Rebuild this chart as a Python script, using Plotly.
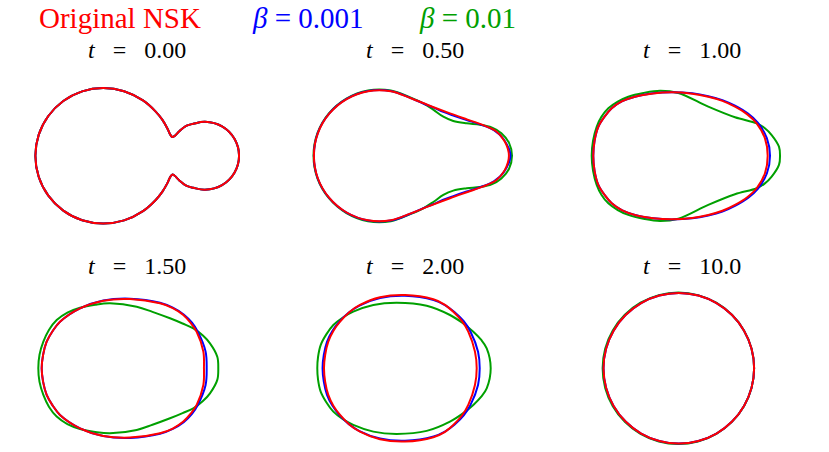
import plotly.graph_objects as go

# Droplet contours at six times (upper half, left -> right; the shapes are
# mirror-symmetric about y = 0). Units: radius of the final circle ~ 1.

TIMES = ["0.00", "0.50", "1.00", "1.50", "2.00", "10.0"]

# t = 0.00 (all three models start from the same shape)
t000_x = [-1.355, -1.311, -1.183, -0.984, -0.733, -0.455, -0.177, 0.074, 0.240,
          0.330, 0.400, 0.436, 0.462, 0.492, 0.560, 0.655, 0.743, 0.898, 1.124,
          1.289, 1.350]
t000_y = [0.0, 0.278, 0.529, 0.728, 0.856, 0.900, 0.858, 0.735, 0.590,
          0.480, 0.360, 0.282, 0.250, 0.262, 0.330, 0.400, 0.425, 0.452, 0.391,
          0.226, 0.0]

# t = 0.50
t050_nsk_x = [-1.340, -1.288, -1.136, -0.905, -0.621, -0.319, -0.060, 0.180, 0.467,
              0.700, 0.900, 1.080, 1.195, 1.250]
t050_nsk_y = [0.0, 0.298, 0.559, 0.753, 0.857, 0.857, 0.768, 0.672, 0.564,
              0.481, 0.410, 0.325, 0.190, 0.0]
t050_b1_x = [-1.340, -1.290, -1.138, -0.906, -0.621, -0.319, -0.060, 0.113, 0.250,
             0.379, 0.511, 0.689, 0.866, 1.050, 1.180, 1.270]
t050_b1_y = [0.0, 0.298, 0.560, 0.755, 0.860, 0.860, 0.770, 0.695, 0.640,
             0.583, 0.535, 0.475, 0.418, 0.340, 0.220, 0.0]
t050_b2_x = [-1.345, -1.293, -1.141, -0.908, -0.622, -0.318, -0.060, 0.113, 0.250,
             0.379, 0.511, 0.689, 0.866, 1.020, 1.150, 1.250, 1.291]
t050_b2_y = [0.0, 0.300, 0.563, 0.760, 0.868, 0.868, 0.775, 0.697, 0.610,
             0.519, 0.462, 0.431, 0.413, 0.378, 0.300, 0.175, 0.0]

# t = 1.00
t100_nsk_x = [-1.315, -1.298, -1.248, -1.165, -1.070, -0.930, -0.761, -0.520, -0.274,
              0.000, 0.212, 0.400, 0.567, 0.730, 0.855, 0.965, 1.001]
t100_nsk_y = [0.0, 0.200, 0.386, 0.520, 0.631, 0.725, 0.785, 0.828, 0.843,
              0.825, 0.785, 0.730, 0.652, 0.550, 0.431, 0.232, 0.0]
t100_b1_x = [-1.315, -1.298, -1.248, -1.165, -1.070, -0.930, -0.761, -0.520, -0.274,
             0.000, 0.212, 0.400, 0.567, 0.740, 0.870, 0.990, 1.032]
t100_b1_y = [0.0, 0.200, 0.386, 0.520, 0.631, 0.725, 0.785, 0.830, 0.845,
             0.830, 0.792, 0.740, 0.665, 0.560, 0.440, 0.235, 0.0]
t100_b2_x = [-1.336, -1.318, -1.270, -1.205, -1.115, -0.990, -0.850, -0.650, -0.429,
             -0.186, 0.212, 0.567, 0.855, 0.960, 1.054, 1.151, 1.165]
t100_b2_y = [0.0, 0.200, 0.386, 0.520, 0.631, 0.720, 0.785, 0.835, 0.865,
             0.835, 0.652, 0.511, 0.431, 0.370, 0.276, 0.121, 0.0]

# t = 1.50
t150_nsk_x = [-1.271, -1.252, -1.205, -1.125, -1.028, -0.762, -0.453, -0.098, 0.300,
              0.470, 0.610, 0.710, 0.787, 0.876, 0.884]
t150_nsk_y = [0.0, 0.180, 0.353, 0.495, 0.619, 0.797, 0.898, 0.920, 0.863,
              0.800, 0.708, 0.600, 0.486, 0.221, 0.0]
t150_b1_x = [-1.271, -1.252, -1.205, -1.125, -1.028, -0.762, -0.453, -0.098, 0.300,
             0.470, 0.615, 0.725, 0.800, 0.905, 0.920]
t150_b1_y = [0.0, 0.180, 0.353, 0.495, 0.619, 0.797, 0.900, 0.925, 0.870,
             0.805, 0.715, 0.605, 0.490, 0.225, 0.0]
t150_b2_x = [-1.316, -1.300, -1.249, -1.175, -1.072, -0.930, -0.762, -0.560, -0.364,
             -0.009, 0.200, 0.433, 0.600, 0.743, 0.870, 0.964, 1.061, 1.074]
t150_b2_y = [0.0, 0.180, 0.353, 0.510, 0.641, 0.740, 0.805, 0.845, 0.863,
             0.818, 0.750, 0.664, 0.595, 0.531, 0.435, 0.332, 0.154, 0.0]

# t = 2.00
t200_nsk_x = [-1.206, -1.190, -1.149, -1.080, -0.993, -0.870, -0.728, -0.462, -0.130,
              0.246, 0.390, 0.511, 0.625, 0.710, 0.799, 0.822]
t200_nsk_y = [0.0, 0.180, 0.353, 0.500, 0.619, 0.745, 0.841, 0.943, 0.973,
              0.916, 0.850, 0.752, 0.630, 0.486, 0.221, 0.0]
t200_b1_x = [-1.225, -1.208, -1.166, -1.095, -1.005, -0.880, -0.735, -0.462, -0.130,
             0.250, 0.400, 0.530, 0.650, 0.740, 0.840, 0.862]
t200_b1_y = [0.0, 0.180, 0.353, 0.495, 0.615, 0.738, 0.833, 0.933, 0.962,
             0.905, 0.840, 0.745, 0.625, 0.486, 0.221, 0.0]
t200_b2_x = [-1.295, -1.285, -1.250, -1.175, -1.082, -0.955, -0.817, -0.551, -0.240,
             0.158, 0.467, 0.630, 0.777, 0.880, 0.955, 1.008]
t200_b2_y = [0.0, 0.150, 0.309, 0.450, 0.575, 0.675, 0.752, 0.841, 0.871,
             0.831, 0.708, 0.605, 0.486, 0.380, 0.266, 0.0]

# t = 10.0 (relaxed to a circle)
t1000_nsk_x = [-1.179, -1.145, -1.045, -0.886, -0.679, -0.438, -0.179, 0.080, 0.321,
               0.528, 0.687, 0.787, 0.821]
t1000_nsk_y = [0.0, 0.259, 0.500, 0.707, 0.866, 0.966, 1.000, 0.966, 0.866,
               0.707, 0.500, 0.259, 0.0]
t1000_b2_x = [-1.191, -1.157, -1.056, -0.896, -0.688, -0.445, -0.185, 0.075, 0.318,
              0.526, 0.686, 0.787, 0.821]
t1000_b2_y = [0.0, 0.260, 0.503, 0.711, 0.871, 0.972, 1.006, 0.972, 0.871,
              0.711, 0.503, 0.260, 0.0]

# (green, blue, red) per panel -- red drawn last so it sits on top
PANELS = [
    [(t000_x, t000_y), (t000_x, t000_y), (t000_x, t000_y)],
    [(t050_b2_x, t050_b2_y), (t050_b1_x, t050_b1_y), (t050_nsk_x, t050_nsk_y)],
    [(t100_b2_x, t100_b2_y), (t100_b1_x, t100_b1_y), (t100_nsk_x, t100_nsk_y)],
    [(t150_b2_x, t150_b2_y), (t150_b1_x, t150_b1_y), (t150_nsk_x, t150_nsk_y)],
    [(t200_b2_x, t200_b2_y), (t200_b1_x, t200_b1_y), (t200_nsk_x, t200_nsk_y)],
    [(t1000_b2_x, t1000_b2_y), (t1000_nsk_x, t1000_nsk_y), (t1000_nsk_x, t1000_nsk_y)],
]

COLORS = ["#00a000", "#0000ff", "#ff0000"]
LEGEND = ["Original NSK", "<i>β</i> = 0.001", "<i>β</i> = 0.01"]

W, H = 829, 452
COL_PX = [137.4, 414.8, 692.3]
ROW_PX = [155.8, 368.3]
TITLE_PX = [50.5, 266.3]
PX_PER_UNIT = 75.3
XR, YR = 1.7, 1.1
FONT = "Liberation Serif, Times New Roman, serif"


def closed(xs, ys):
    """Upper half + its mirror image, as one closed outline."""
    return xs + xs[-2::-1], ys + [-v for v in ys[-2::-1]]


fig = go.Figure()
layout = {}
annotations = []

for i, curves in enumerate(PANELS):
    row, col = divmod(i, 3)
    n = "" if i == 0 else str(i + 1)
    for (xs, ys), color in zip(curves, COLORS):
        cx, cy = closed(xs, ys)
        fig.add_trace(go.Scatter(
            x=cx, y=cy, mode="lines",
            line=dict(color=color, width=2, shape="spline", smoothing=1),
            xaxis="x" + n, yaxis="y" + n,
            showlegend=False, hoverinfo="skip",
        ))
    c, r = COL_PX[col], ROW_PX[row]
    layout["xaxis" + n] = dict(
        domain=[(c - XR * PX_PER_UNIT) / W, (c + XR * PX_PER_UNIT) / W],
        range=[-XR, XR], visible=False, anchor="y" + n,
    )
    layout["yaxis" + n] = dict(
        domain=[(H - r - YR * PX_PER_UNIT) / H, (H - r + YR * PX_PER_UNIT) / H],
        range=[-YR, YR], visible=False, anchor="x" + n,
    )
    annotations.append(dict(
        text=f"<i>t</i> \u2002=\u2002 {TIMES[i]}",
        x=c / W, y=1 - TITLE_PX[row] / H, xref="paper", yref="paper",
        xanchor="center", yanchor="middle", showarrow=False,
        font=dict(family=FONT, size=24, color="black"),
    ))

# colored-text legend across the top
for label, color, left in zip(LEGEND, COLORS[::-1], [36.7, 250, 416.7]):
    annotations.append(dict(
        text=label, x=left / W, y=1, xref="paper", yref="paper",
        xanchor="left", yanchor="top", showarrow=False,
        font=dict(family=FONT, size=29, color=color),
    ))

fig.update_layout(
    width=W, height=H,
    margin=dict(l=0, r=0, t=0, b=0),
    paper_bgcolor="white", plot_bgcolor="white",
    annotations=annotations,
    **layout,
)

# the page's default body margin would shift the whole figure by 8px
fig.write_html(
    "out.html",
    config={"displayModeBar": False},
    post_script="document.body.style.margin = '0';",
)
